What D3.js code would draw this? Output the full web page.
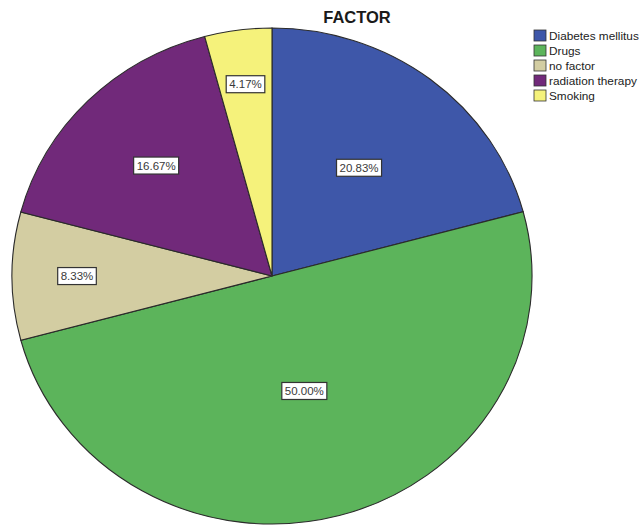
<!DOCTYPE html>
<html>
<head>
<meta charset="utf-8">
<script src="https://cdn.jsdelivr.net/npm/d3@7"></script>
<style>
  html, body { margin: 0; padding: 0; background: #fff; }
  svg { display: block; }
</style>
</head>
<body>
<svg id="chart" width="639" height="526"></svg>
<script>
// Share of cases by risk factor (percent)
const categories = ["Diabetes mellitus", "Drugs", "no factor", "radiation therapy", "Smoking"];
const values = [20.83, 50.00, 8.33, 16.67, 4.17];
const labels = ["20.83%", "50.00%", "8.33%", "16.67%", "4.17%"];
const colors = ["#3e57a9", "#5cb45b", "#d3cda2", "#71297a", "#f5f27b"];
const title = "FACTOR";

// Layout
const cx = 272, cy = 276, rx = 260, ry = 248;
// radial position of each value label, as a fraction of the radius
const labelRadius = [0.55, 0.48, 0.75, 0.63, 0.78];

const svg = d3.select("#chart");

const pie = d3.pie().sort(null).value(d => d.value);
const arcs = pie(categories.map((c, i) => ({ name: c, value: values[i], label: labels[i], color: colors[i] })));

// unit-radius arcs, stretched to the ellipse by the group transform
const arc = d3.arc().innerRadius(0).outerRadius(1);

const pieG = svg.append("g")
  .attr("transform", `translate(${cx},${cy}) scale(${rx},${ry})`);

pieG.selectAll("path")
  .data(arcs)
  .join("path")
  .attr("d", arc)
  .attr("fill", d => d.data.color)
  .attr("stroke", "#2b2b2b")
  .attr("stroke-width", 1.1)
  .attr("vector-effect", "non-scaling-stroke");

// value labels in white boxes
const labelG = svg.append("g");
arcs.forEach((d, i) => {
  const a = (d.startAngle + d.endAngle) / 2;
  const r = labelRadius[i];
  const x = cx + rx * r * Math.sin(a);
  const y = cy - ry * r * Math.cos(a);
  const g = labelG.append("g").attr("transform", `translate(${x},${y})`);
  const t = g.append("text")
    .attr("text-anchor", "middle")
    .attr("dy", "0.36em")
    .attr("font-family", "Liberation Sans, Arial, sans-serif")
    .attr("font-size", 11.5)
    .attr("fill", "#3a3a3a")
    .text(d.data.label);
  const bb = t.node().getBBox();
  g.insert("rect", "text")
    .attr("x", bb.x - 3)
    .attr("y", -8.5)
    .attr("width", bb.width + 6)
    .attr("height", 17)
    .attr("fill", "#fff")
    .attr("stroke", "#333")
    .attr("stroke-width", 1.2);
});

// title
svg.append("text")
  .attr("x", 357)
  .attr("y", 23)
  .attr("text-anchor", "middle")
  .attr("font-family", "Liberation Sans, Arial, sans-serif")
  .attr("font-weight", "bold")
  .attr("font-size", 16.5)
  .attr("fill", "#1a1a1a")
  .text(title);

// legend
const legend = svg.append("g").attr("transform", "translate(534,30)");
const item = legend.selectAll("g")
  .data(categories)
  .join("g")
  .attr("transform", (d, i) => `translate(0,${i * 15})`);
item.append("rect")
  .attr("width", 12)
  .attr("height", 11)
  .attr("fill", (d, i) => colors[i])
  .attr("stroke", "#333")
  .attr("stroke-width", 0.8);
item.append("text")
  .attr("x", 15)
  .attr("y", 5.5)
  .attr("dy", "0.36em")
  .attr("font-family", "Liberation Sans, Arial, sans-serif")
  .attr("font-size", 11.8)
  .attr("fill", "#222")
  .text(d => d);
</script>
</body>
</html>
